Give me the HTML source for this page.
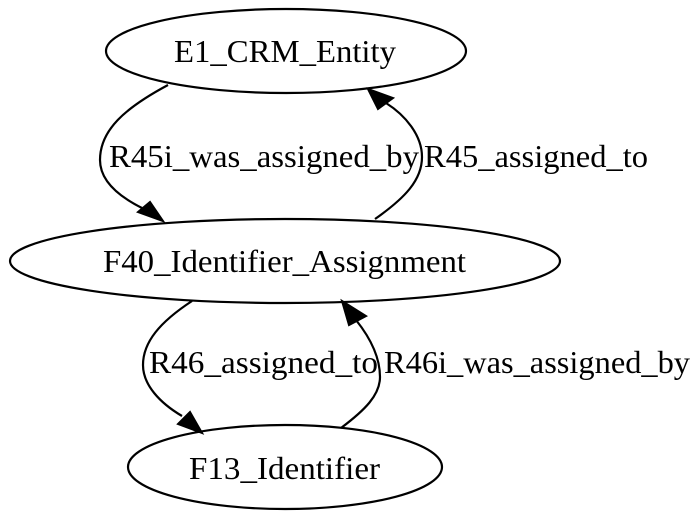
<!DOCTYPE html>
<html><head><meta charset="utf-8"><style>
html,body{margin:0;padding:0;background:#fff;}
svg{display:block;}
text{font-family:"Liberation Serif",serif;font-size:32px;fill:#000;}
</style></head><body>
<svg width="700" height="521" viewBox="0 0 700 521">
<g>
<ellipse cx="286" cy="51" rx="180" ry="42" fill="none" stroke="#000" stroke-width="2.2"/>
<text x="174" y="62" textLength="222" lengthAdjust="spacingAndGlyphs">E1_CRM_Entity</text>
</g>
<g>
<ellipse cx="285" cy="261" rx="275" ry="42" fill="none" stroke="#000" stroke-width="2.2"/>
<text x="103" y="272" textLength="363" lengthAdjust="spacingAndGlyphs">F40_Identifier_Assignment</text>
</g>
<g>
<ellipse cx="285" cy="467" rx="157" ry="42" fill="none" stroke="#000" stroke-width="2.2"/>
<text x="189" y="479" textLength="191" lengthAdjust="spacingAndGlyphs">F13_Identifier</text>
</g>
<g>
<path d="M168,85 C125,108 100,130 100,160 C100,180 118,196 142,208" fill="none" stroke="#000" stroke-width="2.2"/>
<polygon points="163,221 138,212 150,202" fill="#000" stroke="#000" stroke-width="2"/>
<text x="109" y="167" textLength="310" lengthAdjust="spacingAndGlyphs">R45i_was_assigned_by</text>
</g>
<g>
<path d="M375,219 C405,198 422,180 422,157 C422,135 405,115 386,103" fill="none" stroke="#000" stroke-width="2.2"/>
<polygon points="368,89 393,98 378,109" fill="#000" stroke="#000" stroke-width="2"/>
<text x="424" y="167" textLength="224" lengthAdjust="spacingAndGlyphs">R45_assigned_to</text>
</g>
<g>
<path d="M192,301 C160,322 143,342 143,365 C143,385 160,403 182,416" fill="none" stroke="#000" stroke-width="2.2"/>
<polygon points="202,433 178,424 190,412" fill="#000" stroke="#000" stroke-width="2"/>
<text x="149" y="373" textLength="229" lengthAdjust="spacingAndGlyphs">R46_assigned_to</text>
</g>
<g>
<path d="M341,428 C365,410 380,395 380,377 C380,355 368,335 356,320" fill="none" stroke="#000" stroke-width="2.2"/>
<polygon points="342,301 366,316 349,325" fill="#000" stroke="#000" stroke-width="2"/>
<text x="384" y="373" textLength="306" lengthAdjust="spacingAndGlyphs">R46i_was_assigned_by</text>
</g>
</svg>
</body></html>
